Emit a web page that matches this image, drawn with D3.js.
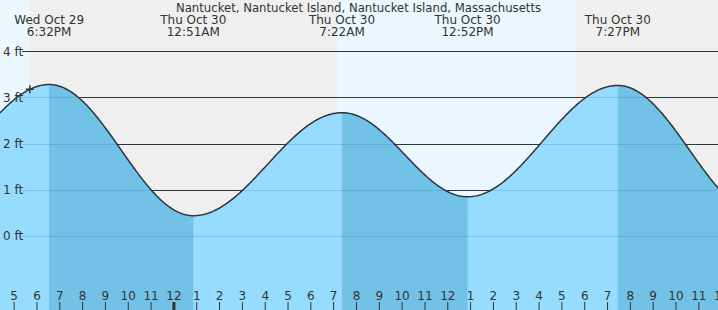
<!DOCTYPE html>
<html><head><meta charset="utf-8">
<script src="https://cdn.jsdelivr.net/npm/d3@7"></script>
<style>
html,body{margin:0;padding:0;background:#fff;overflow:hidden}
svg{display:block}
text{font-family:"DejaVu Sans",sans-serif;fill:#333;font-size:12px}
</style>
</head><body>
<svg id="c" width="718" height="310"></svg>
<script>
// Hours counted from Wed Oct 29 00:00 local time
const tideHours = [12.2, 18.533, 24.85, 31.367, 36.867, 43.45, 49.75];
const tideFeet  = [0.91, 3.28, 0.44, 2.67, 0.85, 3.26, 0.45];
const tideKind  = ["L", "H", "L", "H", "L", "H", "L"];
const eventDays  = [null, "Wed Oct 29", "Thu Oct 30", "Thu Oct 30", "Thu Oct 30", "Thu Oct 30", null];
const eventTimes = [null, "6:32PM", "12:51AM", "7:22AM", "12:52PM", "7:27PM", null];
const daylightStart = [15.0, 31.15];
const daylightEnd   = [17.65, 41.58];
const nowHour = 17.69;
const yTickValues = [0, 1, 2, 3, 4];
const yTickLabels = ["0 ft", "1 ft", "2 ft", "3 ft", "4 ft"];
const xTickHours  = [17,18,19,20,21,22,23,24,25,26,27,28,29,30,31,32,33,34,35,36,37,38,39,40,41,42,43,44,45,46,47,48];
const xTickLabels = ["5","6","7","8","9","10","11","12","1","2","3","4","5","6","7","8","9","10","11","12","1","2","3","4","5","6","7","8","9","10","11","12"];
const chartTitle = "Nantucket, Nantucket Island, Nantucket Island, Massachusetts";

const W = 718, H = 310;
const svg = d3.select("#c");
const x = d3.scaleLinear().domain([16.38, 47.84]).range([0, W]);
const y = d3.scaleLinear().domain([0, 4]).range([236, 51.3]);

function tideAt(t) {
  let i = 0;
  while (i < tideHours.length - 2 && t > tideHours[i + 1]) i++;
  const t0 = tideHours[i], t1 = tideHours[i + 1];
  const f = Math.max(0, Math.min(1, (t - t0) / (t1 - t0)));
  return tideFeet[i] + (tideFeet[i + 1] - tideFeet[i]) * (1 - Math.cos(Math.PI * f)) / 2;
}
const [d0, d1] = x.domain();
const step = 0.05;
const pts = [];
for (let t = d0; t < d1; t += step) pts.push(t);
pts.push(d1);

// background
svg.append("rect").attr("width", W).attr("height", H).attr("fill", "#efefef");
svg.selectAll("rect.day").data(daylightStart).join("rect").attr("class", "day")
  .attr("x", (d) => x(d)).attr("y", 0)
  .attr("width", (d, i) => x(daylightEnd[i]) - x(d)).attr("height", H)
  .attr("fill", "#ebf6ff");

// dark grid lines
svg.selectAll("line.grid").data(yTickValues).join("line").attr("class", "grid")
  .attr("x1", 22).attr("x2", W).attr("y1", (d) => Math.round(y(d)) + 0.5).attr("y2", (d) => Math.round(y(d)) + 0.5)
  .attr("stroke", "#333").attr("stroke-width", 1);

// tide area
const area = d3.area().x((t) => x(t)).y0(H).y1((t) => y(tideAt(t)));
svg.append("path").datum(pts).attr("d", area).attr("fill", "#96dcfe");

// falling-tide shading (high -> next low)
tideKind.forEach((k, i) => {
  if (k !== "H" || i + 1 >= tideHours.length) return;
  const a = Math.max(tideHours[i], d0), b = Math.min(tideHours[i + 1], d1);
  if (b <= a) return;
  const seg = [a].concat(pts.filter((t) => t > a && t < b), [b]);
  svg.append("path").datum(seg).attr("d", area).attr("fill", "#72c1e6");
});

// faint grid lines over fill
svg.selectAll("line.gridf").data(yTickValues).join("line").attr("class", "gridf")
  .attr("x1", 22).attr("x2", W).attr("y1", (d) => Math.round(y(d)) + 0.5).attr("y2", (d) => Math.round(y(d)) + 0.5)
  .attr("stroke", "rgba(0,80,130,0.16)").attr("stroke-width", 1);

// curve
const line = d3.line().x((t) => x(t)).y((t) => y(tideAt(t)));
svg.append("path").datum(pts).attr("d", line).attr("fill", "none")
  .attr("stroke", "#333").attr("stroke-width", 1.5);

// now marker
const nx = x(nowHour), ny = y(tideAt(nowHour));
svg.append("path").attr("d", `M${nx - 4},${ny}H${nx + 4}M${nx},${ny - 4}V${ny + 4}`)
  .attr("stroke", "#333").attr("stroke-width", 1.5);

// y labels
svg.selectAll("text.yl").data(yTickValues).join("text").attr("class", "yl")
  .attr("x", 3).attr("y", (d) => y(d)).attr("dy", "0.36em").text((d, i) => yTickLabels[i]);

// x ticks
svg.selectAll("line.xt").data(xTickHours).join("line").attr("class", "xt")
  .attr("x1", (d) => x(d)).attr("x2", (d) => x(d)).attr("y1", 302).attr("y2", H)
  .attr("stroke", "#333").attr("stroke-width", (d) => d % 24 === 0 ? 3 : 1);
svg.selectAll("text.xl").data(xTickHours).join("text").attr("class", "xl")
  .attr("x", (d) => x(d)).attr("y", 300).attr("text-anchor", "middle")
  .text((d, i) => xTickLabels[i]);

// event labels
tideHours.forEach((t, i) => {
  if (!eventDays[i]) return;
  const g = svg.append("text").attr("text-anchor", "middle");
  g.append("tspan").attr("x", x(t)).attr("y", 24).text(eventDays[i]);
  g.append("tspan").attr("x", x(t)).attr("y", 36).text(eventTimes[i]);
});

// title
svg.append("text").attr("x", 358.5).attr("y", 11.5).attr("text-anchor", "middle")
  .style("font-size", "11.7px").text(chartTitle);
</script>
</body></html>
